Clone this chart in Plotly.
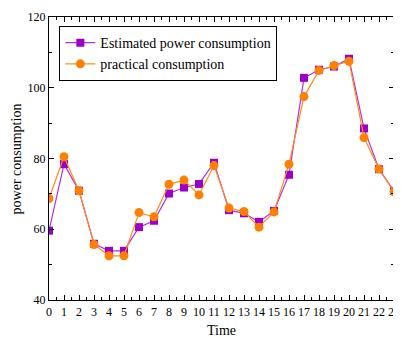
import plotly.graph_objects as go

hours = list(range(24))
estimated = [59.6, 78.4, 70.9, 55.9, 53.9, 53.9, 60.6, 62.4, 70.1, 71.8, 72.8, 78.8,
             65.4, 64.5, 62.1, 65.2, 75.4, 102.8, 105.1, 106.0, 108.2, 88.5, 77.0, 70.8]
practical = [68.7, 80.5, 70.9, 55.7, 52.5, 52.5, 64.7, 63.5, 72.7, 73.9, 69.7, 78.0,
             66.0, 65.0, 60.6, 64.9, 78.4, 97.5, 104.9, 106.3, 107.5, 85.9, 77.0, 70.6]
x_ticks = list(range(24))
y_ticks = [40, 60, 80, 100, 120]

FONT = "Liberation Serif, Times New Roman, serif"

fig = go.Figure()
fig.add_trace(go.Scatter(
    x=hours, y=estimated, mode="lines+markers", name="Estimated power consumption",
    line=dict(color="#B030E0", width=1.2),
    marker=dict(symbol="square", size=8, color="#9C00C8"),
))
fig.add_trace(go.Scatter(
    x=hours, y=practical, mode="lines+markers", name="practical consumption",
    line=dict(color="#FF8C1A", width=1.2),
    marker=dict(symbol="circle", size=9, color="#FF8000"),
))

axis_common = dict(
    showline=True, linecolor="black", linewidth=1.2, mirror="allticks",
    ticks="inside", ticklen=5, tickcolor="black", tickwidth=1,
    showgrid=False, zeroline=False, automargin=False,
    tickfont=dict(family=FONT, size=12, color="black"),
)
fig.update_xaxes(
    range=[0, 23], tickmode="array", tickvals=x_ticks, ticktext=[str(v) for v in x_ticks],
    minor=dict(ticks="inside", ticklen=3, dtick=0.5, tickcolor="black", tick0=0),
    **axis_common,
)
fig.update_yaxes(
    range=[40, 120], tickmode="array", tickvals=y_ticks, ticktext=[str(v) for v in y_ticks],
    minor=dict(ticks="inside", ticklen=3, dtick=10, tickcolor="black", tick0=40),
    **axis_common,
)
fig.add_annotation(text="Time", xref="paper", yref="paper", x=0.5, y=-0.108,
                   xanchor="center", yanchor="middle", showarrow=False,
                   font=dict(family=FONT, size=14, color="black"))
fig.add_annotation(text="power consumption", xref="paper", yref="paper", x=-0.093, y=0.5,
                   xanchor="center", yanchor="middle", showarrow=False, textangle=-90,
                   font=dict(family=FONT, size=14, color="black"))
fig.update_layout(
    width=393, height=330,
    margin=dict(l=41, r=7, t=9, b=38),
    paper_bgcolor="white", plot_bgcolor="white",
    font=dict(family=FONT, color="black"),
    legend=dict(
        x=0.03, y=0.968, xanchor="left", yanchor="top",
        bordercolor="black", borderwidth=1, bgcolor="white",
        font=dict(family=FONT, size=14, color="black"),
        itemwidth=30, tracegroupgap=0,
    ),
    showlegend=True,
)
fig.write_html("out.html")
